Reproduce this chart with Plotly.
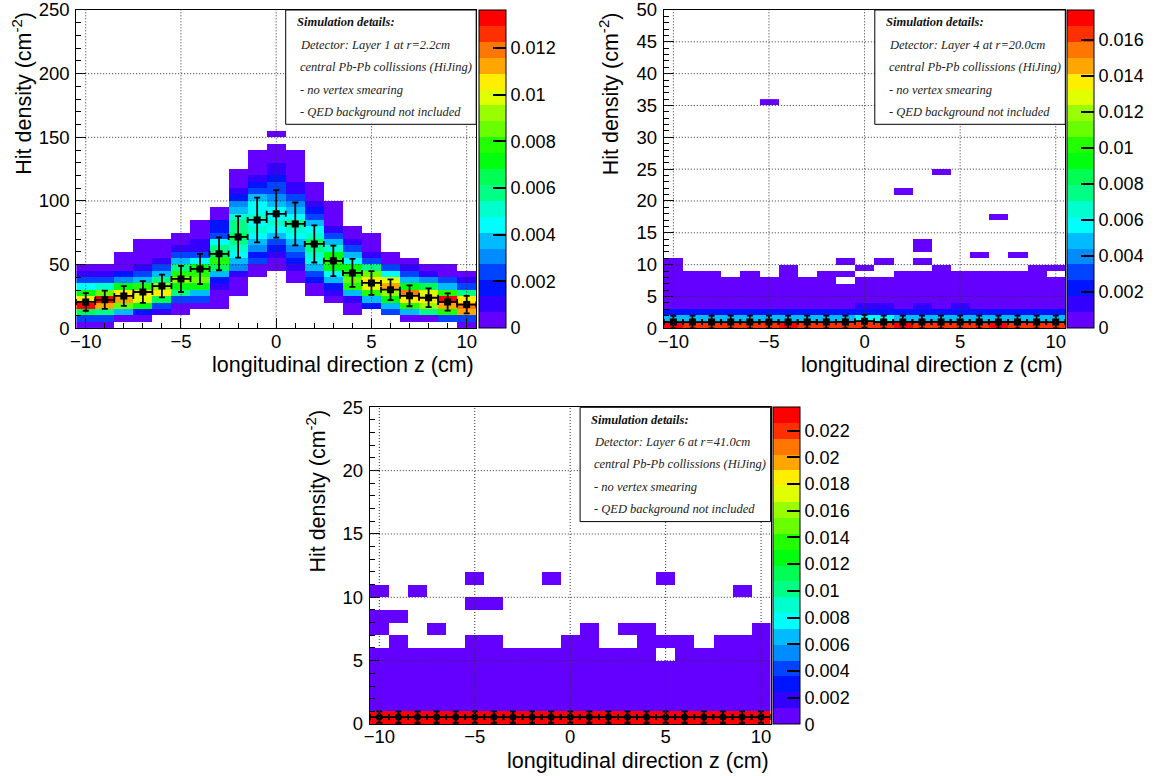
import plotly.graph_objects as go

W, H = 1157, 776
SANS = "Liberation Sans"
SERIF = "Liberation Serif"

# ROOT-like 20-level palette (violet -> red)
PALETTE = ["#6300ff", "#3300ff", "#0014ff", "#0044ff", "#008bff", "#00bbff",
           "#00fffc", "#00ffcc", "#00ff85", "#00ff55", "#00ff0e", "#22ff00",
           "#69ff00", "#99ff00", "#e0ff00", "#ffee00", "#ffa700", "#ff7700",
           "#ff3000", "#ff0000"]
N_LEVELS = 20

Z_BINS = list(range(-10, 11))   # x bin centres (cm)

# ---------------- Panel 1 : Layer 1, r = 2.2 cm ----------------
L1_YBIN = 5.0
L1_NROWS = 31
L1_ZMAX = 0.01362
L1_CB_TICKS = [0, 0.002, 0.004, 0.006, 0.008, 0.01, 0.012]
# first filled y-bin of each column and colour levels
L1_START = [0, 0, 1, 1, 2, 2, 3, 3, 5, 8, 9, 7, 5, 4, 2, 3, 2, 1, 1, 1, 0]
L1_LEVELS = [
    [0, 3, 9, 19, 15, 10, 6, 3, 1, 0],
    [0, 3, 8, 16, 19, 12, 7, 3, 1, 0],
    [0, 5, 12, 16, 15, 10, 4, 2, 0, 0, 0],
    [0, 2, 10, 14, 15, 11, 5, 3, 1, 0, 0, 0, 0],
    [1, 3, 9, 15, 13, 8, 5, 3, 1, 0, 0, 0],
    [0, 0, 3, 8, 10, 13, 11, 8, 5, 3, 1, 0, 0],
    [0, 3, 5, 10, 12, 11, 10, 6, 3, 1, 1, 0, 0, 0],
    [0, 0, 0, 1, 2, 5, 9, 11, 9, 8, 6, 3, 2, 2, 0, 0],
    [0, 0, 0, 1, 4, 5, 6, 7, 8, 9, 8, 8, 7, 5, 4, 2, 1, 0, 0, 0],
    [0, 0, 3, 2, 4, 5, 6, 7, 6, 7, 6, 6, 5, 3, 2, 1, 0, 0, 0, 0],
    [0, 0, 1, 2, 3, 5, 6, 7, 6, 6, 5, 4, 3, 3, 2, 1, 1, 0, 0, 0],
    [0, 0, 1, 2, 3, 4, 5, 6, 7, 8, 6, 5, 4, 3, 1, 1, 0, 0, 0, 0, 0],
    [0, 0, 2, 3, 5, 6, 7, 8, 9, 7, 6, 5, 3, 2, 1, 0, 0, 0],
    [0, 1, 2, 5, 6, 10, 11, 10, 7, 5, 3, 1, 0, 0, 0, 0],
    [0, 0, 1, 5, 11, 12, 11, 10, 6, 5, 3, 1, 0, 0],
    [2, 5, 11, 14, 15, 12, 8, 3, 1, 0, 0, 0],
    [3, 5, 10, 13, 16, 14, 6, 3, 0, 0],
    [0, 5, 11, 15, 17, 10, 5, 3, 1, 0],
    [0, 8, 13, 15, 14, 9, 4, 1, 0],
    [3, 11, 16, 19, 11, 5, 3, 0, 0],
    [0, 3, 16, 17, 15, 8, 3, 1, 0],
]
L1_EXTRA = [(0, 30, 0)]          # (z bin, y bin, level)
L1_MEAN = [20.7, 22.4, 25.4, 28.5, 33.2, 38.8, 46.6, 58.5, 71.8, 85.1, 89.9,
           82.0, 66.3, 53.0, 43.5, 35.6, 30.3, 25.5, 24.0, 20.7, 18.6]
L1_ERR = [6.9, 7.2, 7.8, 8.6, 8.9, 10.3, 11.9, 12.9, 16.3, 17.6, 18.7,
          16.8, 14.6, 12.0, 11.0, 9.3, 8.2, 8.2, 7.4, 6.8, 6.8]

# ---------------- Panel 2 : Layer 4, r = 20.0 cm ----------------
L2_YBIN = 1.0
L2_NROWS = 36
L2_ZMAX = 0.01766
L2_CB_TICKS = [0, 0.002, 0.004, 0.006, 0.008, 0.01, 0.012, 0.014, 0.016]
L2_START = [0] * 21
L2_LEVELS = [
    [19, 5, 2, 0, 0, 0, 0, 0, 0, 0, 0],
    [18, 5, 2, 0, 0, 0, 0, 0, 0],
    [18, 5, 2, 0, 0, 0, 0, 0, 0],
    [18, 5, 2, 0, 0, 0, 0, 0],
    [18, 5, 2, 0, 0, 0, 0, 0, 0],
    [18, 5, 2, 0, 0, 0, 0, 0],
    [19, 5, 2, 0, 0, 0, 0, 0, 0, 0],
    [18, 5, 2, 0, 0, 0, 0, 0],
    [18, 5, 2, 0, 0, 0, 0, 0, 0],
    [18, 5, 2, 0, 0, 0, 0, None, 0, None, 0],
    [18, 6, 2, 1, 0, 0, 0, 0, None, 0],
    [18, 6, 2, 1, 0, 0, 0, 0, None, None, 0],
    [19, 5, 2, 0, 0, 0, 0, 0, 0],
    [18, 5, 2, 1, 0, 0, 0, 0, 0, None, 0, None, 0, 0],
    [18, 5, 2, 0, 0, 0, 0, 0, 0, 0],
    [18, 5, 2, 1, 0, 0, 0, 0, 0],
    [18, 5, 2, 0, 0, 0, 0, 0, 0],
    [19, 5, 2, 0, 0, 0, 0, 0, 0],
    [18, 5, 2, 0, 0, 0, 0, 0, 0],
    [18, 5, 2, 0, 0, 0, 0, 0, 0, 0],
    [18, 5, 2, 0, 0, 0, 0, 0, None, 0],
]
L2_EXTRA = [(-5, 35, 0), (2, 21, 0), (4, 24, 0), (6, 11, 0), (7, 17, 0), (8, 11, 0)]
L2_MEAN = [0.97, 0.98, 0.97, 0.98, 0.98, 1.0, 0.98, 0.99, 0.98, 1.0, 1.12,
           0.99, 1.0, 0.99, 1.0, 0.99, 0.98, 0.99, 0.99, 0.98, 0.98]
L2_ERR = [1.0] * 21

# ---------------- Panel 3 : Layer 6, r = 41.0 cm ----------------
L3_YBIN = 1.0
L3_NROWS = 12
L3_ZMAX = 0.02375
L3_CB_TICKS = [0, 0.002, 0.004, 0.006, 0.008, 0.01, 0.012, 0.014, 0.016,
               0.018, 0.02, 0.022]
L3_START = [0] * 21
L3_LEVELS = [[19, 0, 0, 0, 0, 0] for _ in range(21)]
L3_LEVELS[15] = [19, 0, 0, 0, 0, None]
L3_EXTRA = ([(z, 6, 0) for z in (-9, -5, -4, 0, 1, 4, 5, 6, 8, 9, 10)]
            + [(z, 7, 0) for z in (-10, -7, 1, 3, 4, 10)]
            + [(z, 8, 0) for z in (-10, -9)]
            + [(z, 9, 0) for z in (-5, -4)]
            + [(z, 10, 0) for z in (-10, -8, 9)]
            + [(z, 11, 0) for z in (-5, -1, 5)])
L3_MEAN = [0.55] * 21
L3_ERR = [0.45] * 21

TEXT_LINES = ["central Pb-Pb collissions (HiJing)", "- no vertex smearing",
              "- QED background not included"]
DETECTORS = ["Detector: Layer 1 at r=2.2cm", "Detector: Layer 4 at r=20.0cm",
             "Detector: Layer 6 at r=41.0cm"]


def colorscale():
    cs = []
    for i, c in enumerate(PALETTE):
        cs.append([i / N_LEVELS, c])
        cs.append([(i + 1) / N_LEVELS, c])
    return cs


def level_value(level, zmax):
    return (level + 0.5) / N_LEVELS * zmax


def build_grid(starts, levels, extras, nrows, zmax):
    grid = [[None] * len(Z_BINS) for _ in range(nrows)]
    for j, (s, lv) in enumerate(zip(starts, levels)):
        for i, l in enumerate(lv):
            if l is not None:
                grid[s + i][j] = level_value(l, zmax)
    for zc, k, l in extras:
        grid[k][Z_BINS.index(zc)] = level_value(l, zmax)
    return grid


def px(x):
    return x / W


def py(y):
    return 1 - y / H


PANELS = [
    dict(grid=(L1_START, L1_LEVELS, L1_EXTRA, L1_NROWS, L1_ZMAX), ybin=L1_YBIN,
         zmax=L1_ZMAX, ticks=L1_CB_TICKS, mean=L1_MEAN, err=L1_ERR,
         yrange=[0, 250], ydt=50, ymin=10, marker="square", det=DETECTORS[0],
         box=(76.2, 476.2, 10.0, 328.3), cb=479.0),
    dict(grid=(L2_START, L2_LEVELS, L2_EXTRA, L2_NROWS, L2_ZMAX), ybin=L2_YBIN,
         zmax=L2_ZMAX, ticks=L2_CB_TICKS, mean=L2_MEAN, err=L2_ERR,
         yrange=[0, 50], ydt=5, ymin=1, marker="square", det=DETECTORS[1],
         box=(663.8, 1065.3, 10.0, 328.3), cb=1067.0),
    dict(grid=(L3_START, L3_LEVELS, L3_EXTRA, L3_NROWS, L3_ZMAX), ybin=L3_YBIN,
         zmax=L3_ZMAX, ticks=L3_CB_TICKS, mean=L3_MEAN, err=L3_ERR,
         yrange=[0, 25], ydt=5, ymin=1, marker="circle", det=DETECTORS[2],
         box=(369.8, 770.6, 407.3, 724.0), cb=772.7),
]

fig = go.Figure()
shapes = []
annotations = []
layout = {}
DOT = dict(color="#333", width=1, dash="1px,2px")

for i, p in enumerate(PANELS):
    n = "" if i == 0 else str(i + 1)
    xa, ya = "x" + n, "y" + n
    x0, x1, y0, y1 = p["box"]
    grid = build_grid(*p["grid"])
    ycent = [(k + 0.5) * p["ybin"] for k in range(len(grid))]
    fig.add_trace(go.Heatmap(
        x=Z_BINS, y=ycent, z=grid, xaxis=xa, yaxis=ya,
        colorscale=colorscale(), zmin=0, zmax=p["zmax"], hoverinfo="skip",
        colorbar=dict(
            x=px(p["cb"]), xanchor="left", y=py(y0), yanchor="top",
            len=(y1 - y0) / H, lenmode="fraction", thickness=27,
            thicknessmode="pixels", xpad=0, ypad=0, outlinewidth=1,
            outlinecolor="black", tickmode="array", tickvals=p["ticks"],
            ticktext=[("%g" % t) for t in p["ticks"]], ticks="inside",
            ticklen=13, tickwidth=1.5, tickcolor="black",
            ticklabeloverflow="allow",
            tickfont=dict(family=SANS, size=18, color="black"),
        ),
    ))
    fig.add_trace(go.Scatter(
        x=Z_BINS, y=p["mean"], xaxis=xa, yaxis=ya, mode="markers",
        marker=dict(symbol=p["marker"], size=7, color="black"),
        error_y=dict(type="data", array=p["err"], color="black", thickness=1.8, width=3),
        error_x=dict(type="constant", value=0.5, color="black", thickness=1.8, width=3),
        hoverinfo="skip", showlegend=False,
    ))
    axis_common = dict(
        showline=True, linecolor="black", linewidth=1, mirror=True,
        ticks="inside", ticklen=10, tickwidth=1, tickcolor="black",
        showgrid=False, zeroline=False, layer="above traces", automargin=False,
        ticklabeloverflow="allow",
        tickfont=dict(family=SANS, size=18.5, color="black"),
    )
    layout["xaxis" + n] = dict(
        axis_common, domain=[px(x0), px(x1)], range=[-10.5, 10.5],
        tick0=0, dtick=5, anchor=ya, ticklabelstandoff=-4,
        minor=dict(ticks="inside", ticklen=5, dtick=1, tickcolor="black"),
    )
    layout["yaxis" + n] = dict(
        axis_common, domain=[py(y1), py(y0)], range=p["yrange"],
        tick0=0, dtick=p["ydt"], anchor=xa, ticklabelstandoff=2,
        minor=dict(ticks="inside", ticklen=5, dtick=p["ymin"], tickcolor="black"),
    )
    # dotted grid drawn above the histogram
    for gx in (-10, -5, 0, 5, 10):
        shapes.append(dict(type="line", xref=xa, yref=ya, x0=gx, x1=gx,
                           y0=p["yrange"][0], y1=p["yrange"][1], layer="above",
                           line=DOT))
    gy = p["ydt"]
    while gy < p["yrange"][1]:
        shapes.append(dict(type="line", xref=xa, yref=ya, x0=-10.5, x1=10.5,
                           y0=gy, y1=gy, layer="above", line=DOT))
        gy += p["ydt"]
    # text box
    bx0 = x1 - 190.5
    shapes.append(dict(type="rect", xref="paper", yref="paper", x0=px(bx0), x1=px(x1),
                       y0=py(y0 + 114.3), y1=py(y0), layer="above",
                       fillcolor="white", line=dict(color="black", width=1)))
    annotations.append(dict(text="<b><i>Simulation details:</i></b>", xref="paper", yref="paper",
                            x=px(bx0 + 9), y=py(y0 + 12.3), xanchor="left", yanchor="middle",
                            showarrow=False, font=dict(family=SERIF, size=12.5, color="#111")))
    for j, t in enumerate([p["det"]] + TEXT_LINES):
        annotations.append(dict(text="<i>%s</i>" % t, xref="paper", yref="paper",
                                x=px(bx0 + 12), y=py(y0 + 34.7 + 22.4 * j),
                                xanchor="left", yanchor="middle", showarrow=False,
                                font=dict(family=SERIF, size=12.5, color="#222")))
    # axis titles (ROOT style: aligned to the axis end)
    annotations.append(dict(text="Hit density (cm<sup>-2</sup>)", textangle=-90,
                            xref="paper", yref="paper", x=px(x0 - 54), y=py(y0),
                            xanchor="center", yanchor="top", showarrow=False,
                            font=dict(family=SANS, size=21.5, color="black")))
    annotations.append(dict(text="longitudinal direction z (cm)",
                            xref="paper", yref="paper", x=px(x1), y=py(y1 + 37),
                            xanchor="right", yanchor="middle", showarrow=False,
                            font=dict(family=SANS, size=21.5, color="black")))

fig.update_layout(
    template="none",
    width=W, height=H, margin=dict(l=0, r=0, t=0, b=0, autoexpand=False),
    paper_bgcolor="white", plot_bgcolor="white", showlegend=False,
    shapes=shapes, annotations=annotations, **layout,
)

fig.write_html("out.html", config={"displayModeBar": False},
               post_script="document.body.style.margin='0px';"
                           "document.body.style.overflow='hidden';")
